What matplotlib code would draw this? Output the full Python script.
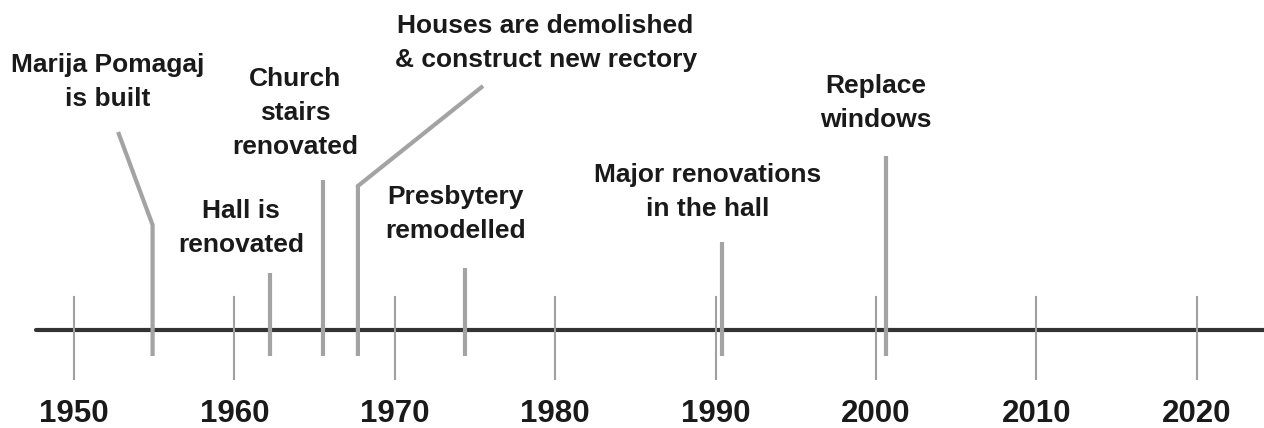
import matplotlib
matplotlib.use("Agg")
import matplotlib.pyplot as plt

# ---- data ----
tick_years = [1950, 1960, 1970, 1980, 1990, 2000, 2010, 2020]
tick_labels = ["1950", "1960", "1970", "1980", "1990", "2000", "2010", "2020"]
event_years = [1954.9, 1962.2, 1965.5, 1967.7, 1974.4, 1990.4, 2000.6]
event_labels = [
    "Marija Pomagaj\nis built",
    "Hall is\nrenovated",
    "Church\nstairs\nrenovated",
    "Houses are demolished\n& construct new rectory",
    "Presbytery\nremodelled",
    "Major renovations\nin the hall",
    "Replace\nwindows",
]

# ---- layout (pixel y from top, x in years) ----
W, H = 1264, 428
px_per_year = 16.04
x0_px = 74
xmin = 1950 - x0_px / px_per_year
xmax = xmin + W / px_per_year
axis_y = 330
stem_bottom = 356
stem_tops = [225, 273, 180, 186, 268, 242, 156]
# optional elbow endpoints (year, y) for leader lines
elbows = {0: (1952.75, 132), 3: (1975.5, 86)}
label_pos = [(1952.1, 82), (1960.4, 228), (1963.8, 113), (1979.4, 43),
             (1973.8, 214), (1989.5, 192), (2000.0, 103)]

fig = plt.figure(figsize=(W / 100, H / 100), dpi=100)
ax = fig.add_axes([0, 0, 1, 1])
ax.set_xlim(xmin, xmax)
ax.set_ylim(H, 0)
ax.axis("off")

ax.plot([1947.6, xmax], [axis_y, axis_y], color="#333333", lw=3.0,
        solid_capstyle="round", zorder=2)

for yr, lab in zip(tick_years, tick_labels):
    ax.plot([yr, yr], [297, 379], color="#a0a0a0", lw=1.5, zorder=3)
    ax.text(yr, 414, lab, ha="center", va="center", fontsize=22.5,
            fontweight="bold", family="Liberation Sans", color="#1a1a1a")

for i, (yr, lab) in enumerate(zip(event_years, event_labels)):
    xs = [yr, yr]
    ys = [stem_bottom, stem_tops[i]]
    if i in elbows:
        xs.append(elbows[i][0])
        ys.append(elbows[i][1])
    ax.plot(xs, ys, color="#a3a3a3", lw=3.0, zorder=4,
            solid_joinstyle="miter", solid_capstyle="butt")
    lx, ly = label_pos[i]
    ax.text(lx, ly, lab, ha="center", va="center", multialignment="center",
            fontsize=19, fontweight="bold", family="Liberation Sans",
            color="#1a1a1a", linespacing=1.55)

fig.savefig("out.png", dpi=100, facecolor="white")
